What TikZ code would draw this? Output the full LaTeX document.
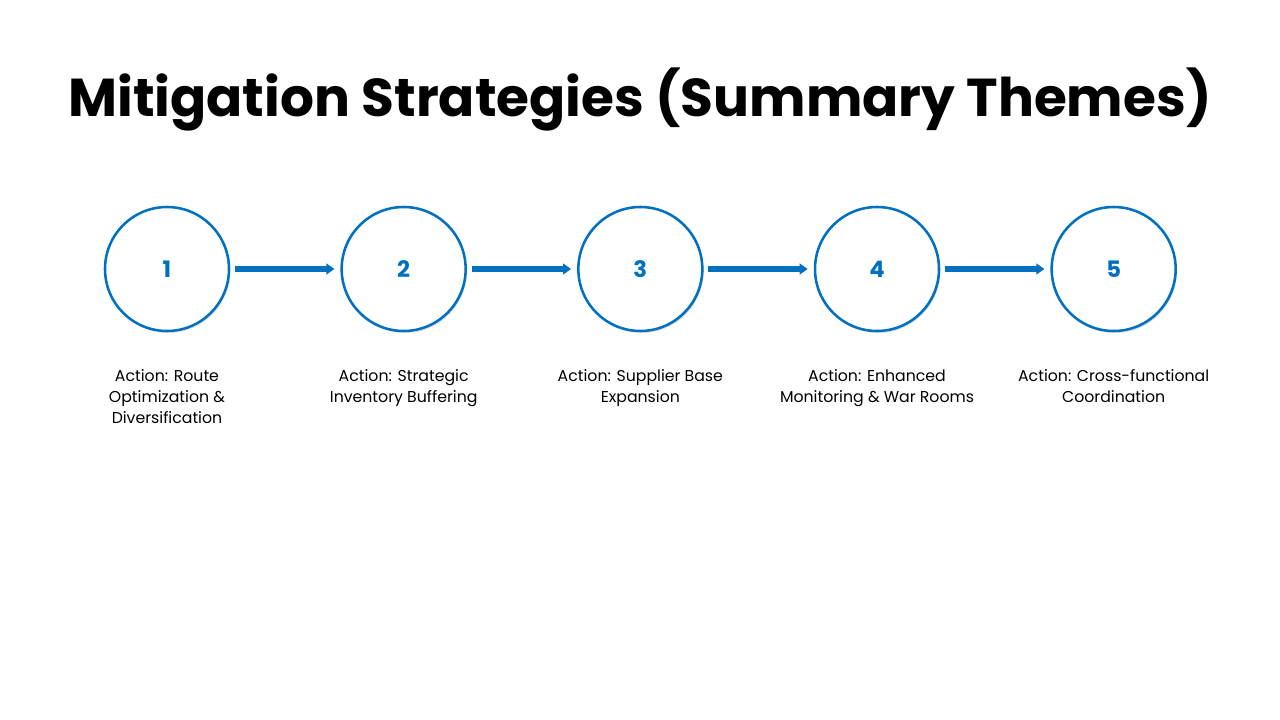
\documentclass[tikz,border=0pt]{standalone}
\usepackage{fontspec}
\setmainfont{Poppins}
\usetikzlibrary{positioning, arrows.meta, shadows}
\definecolor{stepblue}{HTML}{0070C0}
\tikzset{
  stepcircle/.style={circle, draw=stepblue, line width=1.9pt, fill=white, minimum size=93pt,
    inner sep=0pt, text=stepblue, font=\fontsize{17}{20}\selectfont\bfseries,
    drop shadow={shadow xshift=1pt, shadow yshift=-1.5pt, opacity=0.25}},
  steplabel/.style={anchor=north, align=center, inner sep=0pt,
    font=\fontsize{11.8}{15.8}\selectfont},
  steparrow/.style={draw=stepblue, line width=3.8pt, shorten <=3.5pt, shorten >=4.5pt,
    -{Triangle[length=6pt, width=8pt]}}
}
\begin{document}
\begin{tikzpicture}[x=0.75pt, y=-0.75pt, node distance=82.6pt]
  \useasboundingbox[fill=white] (0,0) rectangle (1280,720);
  \node (title) at (640,99) {\fontsize{40}{48}\selectfont\bfseries Mitigation Strategies (Summary Themes)};

  \node[stepcircle] (c1) at (167,269) {1};
  \node[stepcircle] (c2) [right=of c1] {2};
  \node[stepcircle] (c3) [right=of c2] {3};
  \node[stepcircle] (c4) [right=of c3] {4};
  \node[stepcircle] (c5) [right=of c4] {5};

  \foreach \a/\b in {c1/c2, c2/c3, c3/c4, c4/c5}
    \draw[steparrow] (\a) -- (\b);

  \node[steplabel] (l1) [below=28pt of c1] {Action: Route\\Optimization \&\\Diversification};
  \node[steplabel] (l2) [below=28pt of c2] {Action: Strategic\\Inventory Buffering};
  \node[steplabel] (l3) [below=28pt of c3] {Action: Supplier Base\\Expansion};
  \node[steplabel] (l4) [below=28pt of c4] {Action: Enhanced\\Monitoring \& War Rooms};
  \node[steplabel] (l5) [below=28pt of c5] {Action: Cross-functional\\Coordination};
\end{tikzpicture}
\end{document}
